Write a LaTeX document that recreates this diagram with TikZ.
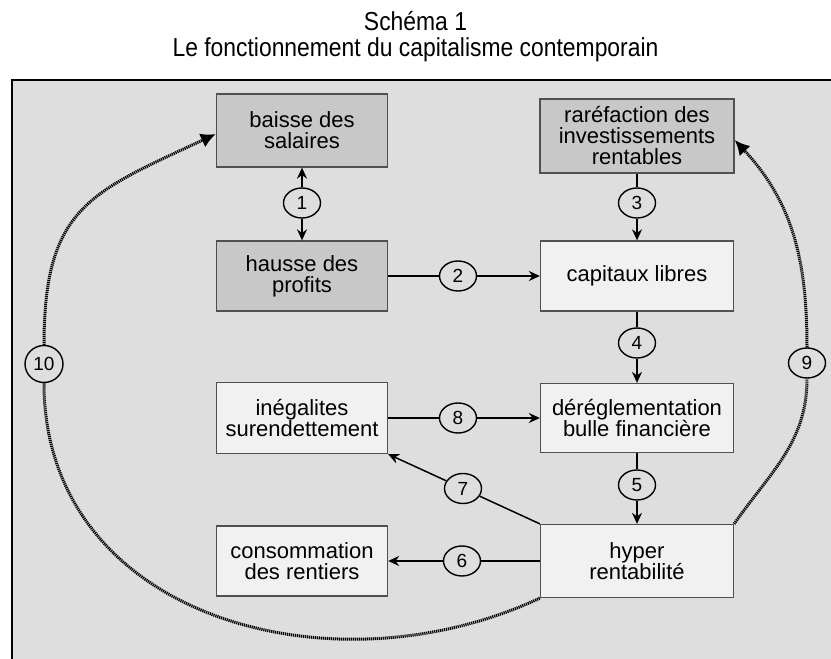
\documentclass[tikz,border=0pt]{standalone}
\usepackage{fontspec}
\setmainfont{Liberation Sans}
\newfontfamily\headfont[FakeStretch=0.88]{Liberation Sans}
\usetikzlibrary{arrows.meta,shapes.geometric}
\definecolor{panel}{HTML}{DEDEDE}
\definecolor{darkbox}{HTML}{C8C8C8}
\definecolor{lightbox}{HTML}{F1F1F1}
\definecolor{boxline}{HTML}{505050}
\begin{document}
\begin{tikzpicture}[x=1pt, y=1pt]
        \tikzstyle{darkcell}=[draw=boxline, fill=darkbox, line width=1.3pt, align=center, inner sep=0pt, font=\fontsize{22}{21}\selectfont]
        \tikzstyle{lightcell}=[darkcell, fill=lightbox]
        \tikzstyle{num}=[draw, ellipse, fill=panel, line width=1.4pt, minimum width=37pt, minimum height=30pt, inner sep=0pt, font=\fontsize{19}{19}\selectfont]
        \tikzstyle{plain}=[line width=1.5pt]
        \tikzstyle{link}=[plain, -{Stealth[length=11pt, width=10pt]}]
        \tikzstyle{loopline}=[line width=3pt, dash pattern=on 1.2pt off 0.8pt]
        \tikzstyle{loophead}=[loopline, -{Latex[length=15pt, width=15pt]}]
        \useasboundingbox (0,0) rectangle (831,659);
        \clip (0,0) rectangle (831,659);
        \node[font=\headfont\fontsize{26}{26}\selectfont] (title) at (415.5,638) {Schéma 1};
        \node[font=\headfont\fontsize{26}{26}\selectfont] (subtitle) at (415.5,609) {Le fonctionnement du capitalisme contemporain};
        \draw[line width=2pt, fill=panel] (12,-20) rectangle (850,579);
        \node[darkcell, minimum width=171pt, minimum height=73pt] (baisse) at (302,528.5) {baisse des\\salaires};
        \node[darkcell, minimum width=171pt, minimum height=70pt] (hausse) at (302,383) {hausse des\\profits};
        \node[darkcell, minimum width=194pt, minimum height=74pt] (raref) at (637,523) {raréfaction des\\investissements\\rentables};
        \node[lightcell, minimum width=193pt, minimum height=70pt] (capitaux) at (637,383) {capitaux libres};
        \node[lightcell, minimum width=193pt, minimum height=69pt] (dereg) at (637,241) {déréglementation\\bulle financière};
        \node[lightcell, minimum width=171pt, minimum height=71pt] (inegal) at (302,241) {inégalites\\surendettement};
        \node[lightcell, minimum width=171pt, minimum height=70pt] (conso) at (302,98) {consommation\\des rentiers};
        \node[lightcell, minimum width=193pt, minimum height=73pt] (hyper) at (637,98) {hyper\\rentabilité};
        \node[num] (n1) at (302,456) {1};
        \node[num] (n2) at (458,383) {2};
        \node[num] (n3) at (637,456) {3};
        \node[num] (n4) at (637,316) {4};
        \node[num] (n5) at (637,174) {5};
        \node[num] (n6) at (462,98) {6};
        \node[num] (n7) at (463,170.5) {7};
        \node[num] (n8) at (458,241) {8};
        \node[num] (n9) at (807,296) {9};
        \node[num, minimum width=38pt, minimum height=37pt] (n10) at (44,295) {10};
        \draw[link] (n1) -- (baisse);
        \draw[link] (n1) -- (hausse);
        \draw[plain] (hausse) -- (n2);
        \draw[link] (n2) -- (capitaux);
        \draw[plain] (raref) -- (n3);
        \draw[link] (n3) -- (capitaux);
        \draw[plain] (capitaux) -- (n4);
        \draw[link] (n4) -- (dereg);
        \draw[plain] (dereg) -- (n5);
        \draw[link] (n5) -- (hyper);
        \draw[plain] (hyper) -- (n6);
        \draw[link] (n6) -- (conso);
        \draw[plain] (hyper.north west) -- (n7);
        \draw[link] (n7) -- (inegal.south east);
        \draw[plain] (inegal) -- (n8);
        \draw[link] (n8) -- (dereg);
        \draw[loopline] (hyper.north east) to[out=55, in=-90] (n9);
        \draw[loophead] (n9) to[out=90, in=-47] ([yshift=-4pt]raref.east);
        \draw[loopline] (hyper.south west) to[out=205, in=-90, looseness=1.1] (n10);
        \draw[loophead] (n10) to[out=90, in=205, looseness=1.3] ([yshift=-3.5pt]baisse.west);
\end{tikzpicture}
\end{document}
